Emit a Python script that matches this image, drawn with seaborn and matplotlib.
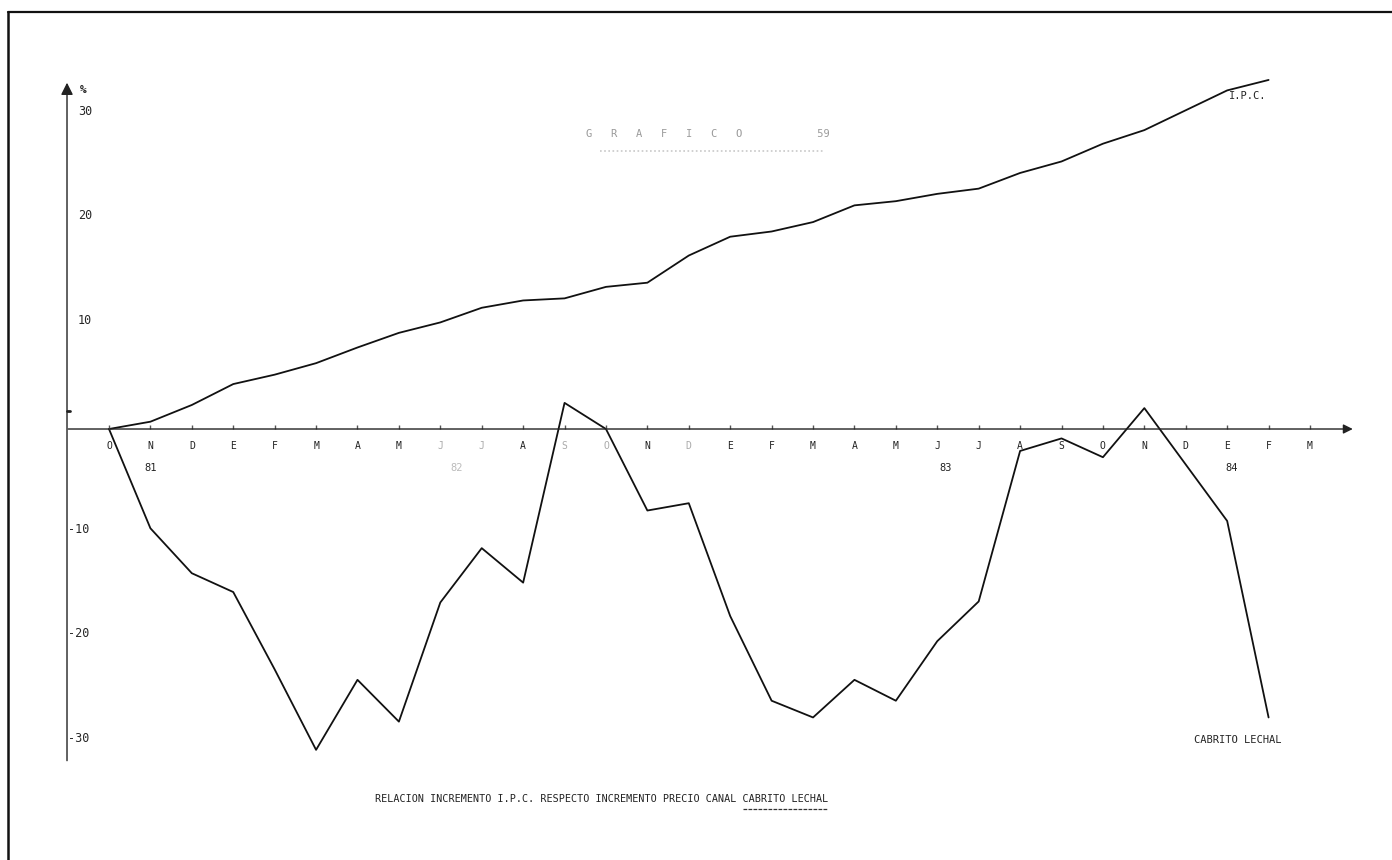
import matplotlib
matplotlib.use("Agg")
import matplotlib.pyplot as plt
from matplotlib.lines import Line2D
import pandas as pd
import seaborn as sns

# datos (incremento acumulado en %)
meses = ['O', 'N', 'D', 'E', 'F', 'M', 'A', 'M', 'J', 'J', 'A', 'S', 'O', 'N', 'D',
         'E', 'F', 'M', 'A', 'M', 'J', 'J', 'A', 'S', 'O', 'N', 'D', 'E', 'F', 'M']
anios = ['81', '82', '83', '84']
anios_pos = [1, 8.4, 20.2, 27.1]

ipc = [0.0, 0.7, 2.3, 4.3, 5.2, 6.3, 7.8, 9.2, 10.2, 11.6, 12.3, 12.5, 13.6, 14.0, 16.6,
       18.4, 18.9, 19.8, 21.4, 21.8, 22.5, 23.0, 24.5, 25.6, 27.3, 28.6, 30.5, 32.4, 33.4]
cabrito = [0.0, -9.5, -13.8, -15.6, -23.0, -30.7, -24.0, -28.0, -16.6, -11.4, -14.7, 2.5, 0.0,
           -7.8, -7.1, -17.9, -26.0, -27.6, -24.0, -26.0, -20.3, -16.5, -2.1, -0.9, -2.7,
           2.0, -3.4, -8.8, -27.6]
yticks = [30, 20, 10, -10, -20, -30]

df = pd.DataFrame({'mes': range(len(ipc)), 'ipc': ipc, 'cabrito': cabrito})

sns.set_style("white")
plt.rcParams['font.family'] = ['DejaVu Sans Mono', 'DejaVu Sans']

fig = plt.figure(figsize=(13.92, 8.6), dpi=100)
ax = fig.add_axes([0, 0, 1, 1])

sns.lineplot(data=df, x='mes', y='ipc', color='#111111', linewidth=1.3, ax=ax)
sns.lineplot(data=df, x='mes', y='cabrito', color='#111111', linewidth=1.3, ax=ax)

# escala: cada mes ~41.4 px, cada unidad ~10.45 px
ax.set_xlim(-2.632, 30.98)
ax.set_ylim(-41.24, 41.05)
ax.axis('off')

# ejes con flecha
ax.annotate('', xy=(30.1, 0), xytext=(-1.05, 0),
            arrowprops=dict(arrowstyle='-|>', color='#222222', lw=1.0, mutation_scale=14))
ax.annotate('', xy=(-1.014, 33.4), xytext=(-1.014, -32.0),
            arrowprops=dict(arrowstyle='-|>', color='#222222', lw=1.0, mutation_scale=18))
ax.text(-0.62, 32.4, '%', fontsize=8, fontweight='bold', ha='center', va='center')

# marcas y etiquetas eje y
for v in yticks:
    ax.text(-0.75 if v > 0 else -0.98, v + 0.4, str(v), fontsize=8.5, ha='left', va='center')
ax.plot([-1.014, -0.95], [1.7, 1.7], color='#222222', lw=2)

# meses y anios
claros = [8, 9, 11, 12, 14]
for i, m in enumerate(meses):
    col = '#aaaaaa' if i in claros else '#222222'
    ax.text(i, -1.6, m, fontsize=7, ha='center', va='center', color=col)
    ax.plot([i], [0.15], marker='|', markersize=3, color='#555555')
for pos, a in zip(anios_pos, anios):
    col = '#bbbbbb' if a == '82' else '#222222'
    ax.text(pos, -3.7, a, fontsize=7.5, ha='center', va='center', color=col)

# rotulos de las series
ax.text(27.05, 31.9, 'I.P.C.', fontsize=7.5, ha='left', va='center')
ax.text(26.2, -29.8, 'CABRITO LECHAL', fontsize=7.5, ha='left', va='center')

# titulo (escaneado, muy tenue)
ax.text(14.45, 28.2, 'G   R   A   F   I   C   O            59', fontsize=7.5, ha='center',
        va='center', color='#9a9a9a')
ax.plot([11.85, 17.3], [26.6, 26.6], color='#c8c8c8', lw=1.2, ls=(0, (1, 1.5)))

# pie del grafico
pie = 'RELACION INCREMENTO I.P.C. RESPECTO INCREMENTO PRECIO CANAL CABRITO LECHAL'
ax.text(11.9, -35.4, pie, fontsize=7.3, ha='center', va='center', color='#222222')
ax.plot([15.3, 17.36], [-36.4, -36.4], color='#333333', lw=0.9, ls=(0, (3, 1)))

# marco de la hoja
fig.add_artist(Line2D([0.006, 1.0], [0.986, 0.986], color='#111111', lw=1.6))
fig.add_artist(Line2D([0.006, 0.006], [0.0, 0.986], color='#111111', lw=1.8))

fig.savefig('out.png', dpi=100)
